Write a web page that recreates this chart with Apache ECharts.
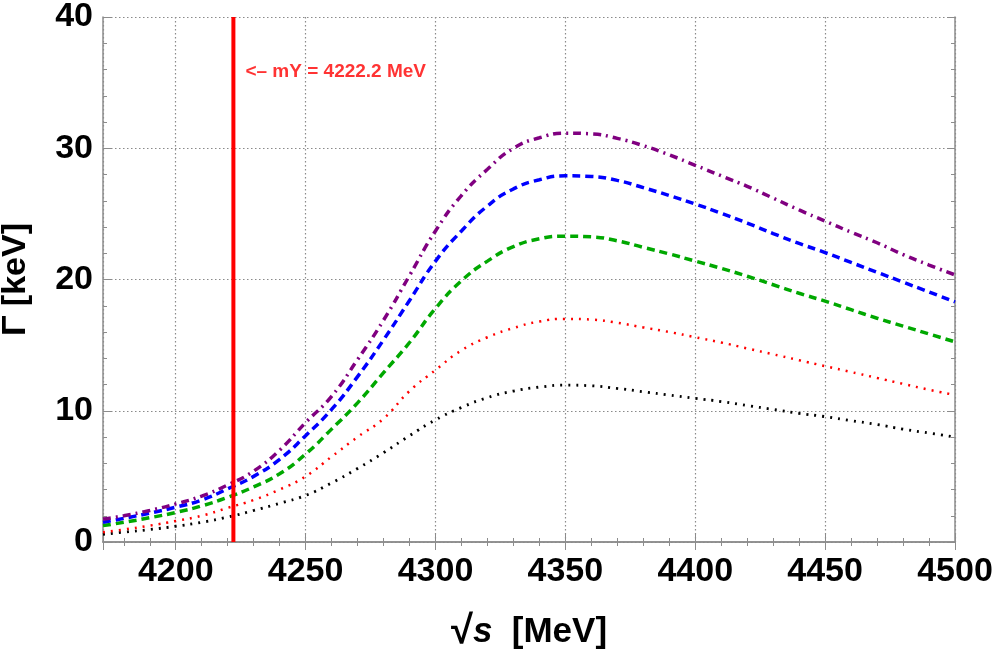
<!DOCTYPE html>
<html><head><meta charset="utf-8">
<script src="https://cdn.jsdelivr.net/npm/echarts@6/dist/echarts.min.js"></script>
<style>html,body{margin:0;padding:0;background:#fff}#c{width:999px;height:653px}</style>
</head><body><div id="c"></div>
<script>
const xs = [4172,4180,4190,4200,4210,4220,4230,4240,4250,4260,4270,4280,4290,4300,4310,4320,4330,4340,4350,4360,4370,4380,4390,4400,4410,4420,4430,4440,4450,4460,4470,4480,4490,4500];
const purple = [1.75,2.0,2.4,2.9,3.5,4.35,5.4,7.0,9.1,11.1,13.9,16.9,20.3,23.7,26.4,28.4,30.0,30.8,31.15,31.1,30.75,30.2,29.5,28.7,27.9,27.1,26.2,25.3,24.45,23.6,22.8,21.9,21.1,20.35];
const blue = [1.5,1.8,2.2,2.65,3.2,4.05,5.0,6.3,8.1,10.1,12.6,15.4,18.4,21.4,23.7,25.6,26.9,27.6,27.9,27.85,27.55,27.0,26.4,25.75,25.05,24.3,23.5,22.75,22.05,21.3,20.55,19.8,19.05,18.3];
const green = [1.25,1.5,1.85,2.25,2.75,3.4,4.2,5.2,6.7,8.6,10.6,12.9,15.2,17.8,19.9,21.4,22.5,23.1,23.3,23.25,22.95,22.45,21.95,21.4,20.85,20.25,19.6,18.95,18.35,17.7,17.05,16.45,15.85,15.25];
const red = [0.75,0.95,1.25,1.6,2.0,2.6,3.2,4.0,5.0,6.5,8.0,9.4,11.5,13.1,14.6,15.6,16.3,16.8,17.0,16.95,16.7,16.35,16.0,15.6,15.2,14.75,14.3,13.85,13.4,12.95,12.5,12.05,11.6,11.2];
const black = [0.58,0.75,0.95,1.2,1.5,1.9,2.4,2.95,3.55,4.5,5.6,6.8,8.1,9.3,10.25,11.0,11.5,11.8,11.95,11.9,11.7,11.45,11.2,10.95,10.7,10.4,10.1,9.8,9.55,9.25,8.95,8.6,8.3,8.0];
const mY = 4222.2;
const mYLabel = '<\u2013 mY = 4222.2 MeV';
const labelYValue = 35.85;
const xMin = 4172, xMax = 4500, yMin = 0, yMax = 40;

const FONT = '"Liberation Sans", Arial, sans-serif';
const pair = a => xs.map((x, i) => [x, a[i]]);
const gridLine = {show: true, lineStyle: {color: '#8a8a8a', type: [1.5, 2.5], width: 1.2}};
const axLine = {show: true, lineStyle: {color: '#8c8c8c', width: 1.5}};
const tick = {show: true, inside: true, length: 8, lineStyle: {color: '#8c8c8c', width: 1}};
const minor = {show: true, splitNumber: 5, length: 4, lineStyle: {color: '#8c8c8c', width: 1}};

const chart = echarts.init(document.getElementById('c'), null, {renderer: 'canvas'});
chart.setOption({
  backgroundColor: '#fff',
  animation: false,
  grid: {left: 103, right: 44, top: 17, bottom: 111, containLabel: false, outerBoundsMode: 'none'},
  xAxis: [
    {type: 'value', min: xMin, max: xMax, splitNumber: 6,
     axisLine: axLine, axisTick: tick, minorTick: minor, splitLine: gridLine,
     axisLabel: {showMinLabel: false, formatter: v => String(v), color: '#000', fontFamily: FONT, fontWeight: 'bold', fontSize: 34, margin: 13},
     name: '{r|\u221A}{i|s}{n|  [MeV]}', nameLocation: 'middle', nameGap: 70,
     nameTextStyle: {rich: {
       r: {fontFamily: FONT, fontWeight: 'bold', fontSize: 40, color: '#000'},
       i: {fontFamily: FONT, fontWeight: 'bold', fontStyle: 'italic', fontSize: 35, color: '#000'},
       n: {fontFamily: FONT, fontWeight: 'bold', fontSize: 35, color: '#000'}}}},
    {type: 'value', position: 'top', min: xMin, max: xMax, splitNumber: 6,
     axisLine: axLine, axisTick: tick, minorTick: minor, splitLine: {show: false},
     axisLabel: {show: false}}
  ],
  yAxis: [
    {type: 'value', min: yMin, max: yMax, interval: 10,
     axisLine: axLine, axisTick: tick, minorTick: minor, splitLine: gridLine,
     axisLabel: {color: '#000', fontFamily: FONT, fontWeight: 'bold', fontSize: 34, margin: 10},
     name: '\u0393 [keV]', nameLocation: 'middle', nameGap: 70, nameRotate: 90,
     nameTextStyle: {color: '#000', fontFamily: FONT, fontWeight: 'bold', fontSize: 34}},
    {type: 'value', position: 'right', min: yMin, max: yMax, interval: 10,
     axisLine: axLine, axisTick: tick, minorTick: minor, splitLine: {show: false},
     axisLabel: {show: false}}
  ],
  series: [
    {type: 'line', data: pair(black), smooth: true, symbol: 'none', lineStyle: {color: '#000', width: 2.8, type: [2, 6], cap: 'butt'}},
    {type: 'line', data: pair(red), smooth: true, symbol: 'none', lineStyle: {color: '#ff0000', width: 2.5, type: [2, 6], cap: 'butt'}},
    {type: 'line', data: pair(green), smooth: true, symbol: 'none', lineStyle: {color: '#00a800', width: 3.5, type: [8, 5], cap: 'butt'}},
    {type: 'line', data: pair(blue), smooth: true, symbol: 'none', lineStyle: {color: '#0000ff', width: 3.5, type: [8, 5], cap: 'butt'}},
    {type: 'line', data: pair(purple), smooth: true, symbol: 'none', lineStyle: {color: '#800080', width: 3.5, type: [8, 5, 2, 5], cap: 'butt'}},
    {type: 'line', data: [[mY, yMin], [mY, yMax]], symbol: 'none', lineStyle: {color: '#ff0000', width: 4}},
    {type: 'scatter', data: [[mY, labelYValue]], symbolSize: 0, silent: true,
     label: {show: true, position: 'right', distance: 12, formatter: mYLabel,
       color: '#ff0000', fontFamily: FONT, fontWeight: 'bold', fontSize: 19}}
  ]
});
</script></body></html>
